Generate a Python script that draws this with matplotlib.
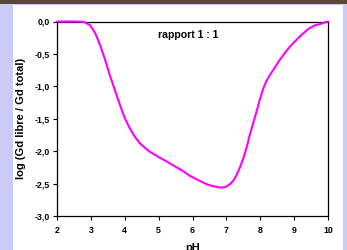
import matplotlib
matplotlib.use("Agg")
import matplotlib.pyplot as plt
from matplotlib.patches import Rectangle

ph = [2.0, 2.5, 2.78, 2.97, 3.12, 3.27, 3.42, 3.56, 3.71, 3.86, 4.0, 4.15, 4.3, 4.45, 4.6, 4.74,
      5.0, 5.24, 5.5, 5.73, 5.92, 6.22, 6.42, 6.6, 6.81, 6.97, 7.10, 7.20, 7.30, 7.40, 7.50, 7.60,
      7.69, 7.79, 7.89, 7.99, 8.09, 8.18, 8.28, 8.43, 8.58, 8.72, 8.87, 9.02, 9.17, 9.32, 9.46,
      9.61, 9.76, 9.90, 10.0]
logfrac = [0.0, 0.0, -0.005, -0.054, -0.17, -0.36, -0.59, -0.83, -1.06, -1.29, -1.49, -1.65,
           -1.78, -1.88, -1.95, -2.01, -2.09, -2.16, -2.24, -2.31, -2.38, -2.46, -2.51, -2.54,
           -2.56, -2.555, -2.51, -2.46, -2.37, -2.25, -2.11, -1.94, -1.75, -1.57, -1.39, -1.20,
           -1.03, -0.92, -0.83, -0.71, -0.59, -0.49, -0.39, -0.31, -0.23, -0.16, -0.10, -0.06,
           -0.04, -0.015, 0.0]

xticks = [2, 3, 4, 5, 6, 7, 8, 9, 10]
yticks = [0.0, -0.5, -1.0, -1.5, -2.0, -2.5, -3.0]
ytick_labels = ["0,0", "-0,5", "-1,0", "-1,5", "-2,0", "-2,5", "-3,0"]
title = "rapport 1 : 1"
xlabel = "pH"
ylabel = "log (Gd libre / Gd total)"

plt.rcParams['font.family'] = ['Liberation Sans', 'DejaVu Sans']

fig = plt.figure(figsize=(3.47, 2.5), dpi=100)
fig.patch.set_facecolor("#cbcbf9")
fig.patches.append(Rectangle((13/347, 0), (343-13)/347, 1 - 5/250, transform=fig.transFigure,
                             facecolor="white", edgecolor="none", zorder=-10))
fig.patches.append(Rectangle((0, 1 - 4/250), 1, 4/250, transform=fig.transFigure,
                             facecolor="#5a4632", edgecolor="none", zorder=-10))

ax = fig.add_axes([57/347, 1 - 216/250, (328 - 57)/347, (216 - 21.5)/250])
ax.set_zorder(5)
ax.set_facecolor("white")
ax.plot(ph, logfrac, color="#ff00ff", lw=1.5, solid_capstyle="round", clip_on=False, zorder=3)
ax.set_xlim(2, 10)
ax.set_ylim(-3, 0)
ax.set_xticks(xticks)
ax.set_xticklabels([str(t) for t in xticks], fontsize=6.3, fontweight="bold")
ax.set_yticks(yticks)
ax.set_yticklabels(ytick_labels, fontsize=6.3, fontweight="bold")
ax.tick_params(axis="both", direction="out", length=3, width=0.8)
ax.tick_params(axis="x", pad=4)
ax.tick_params(axis="y", pad=2)
for s in ax.spines.values():
    s.set_linewidth(0.9)
    s.set_color("black")
ax.text(5.86, -0.21, title, fontsize=7.6, fontweight="bold", ha="center", va="center")
ax.set_xlabel(xlabel, fontsize=8, fontweight="bold", labelpad=6)
ax.set_ylabel(ylabel, fontsize=8, fontweight="bold", labelpad=6)

fig.savefig("out.png", dpi=100, facecolor=fig.get_facecolor())
